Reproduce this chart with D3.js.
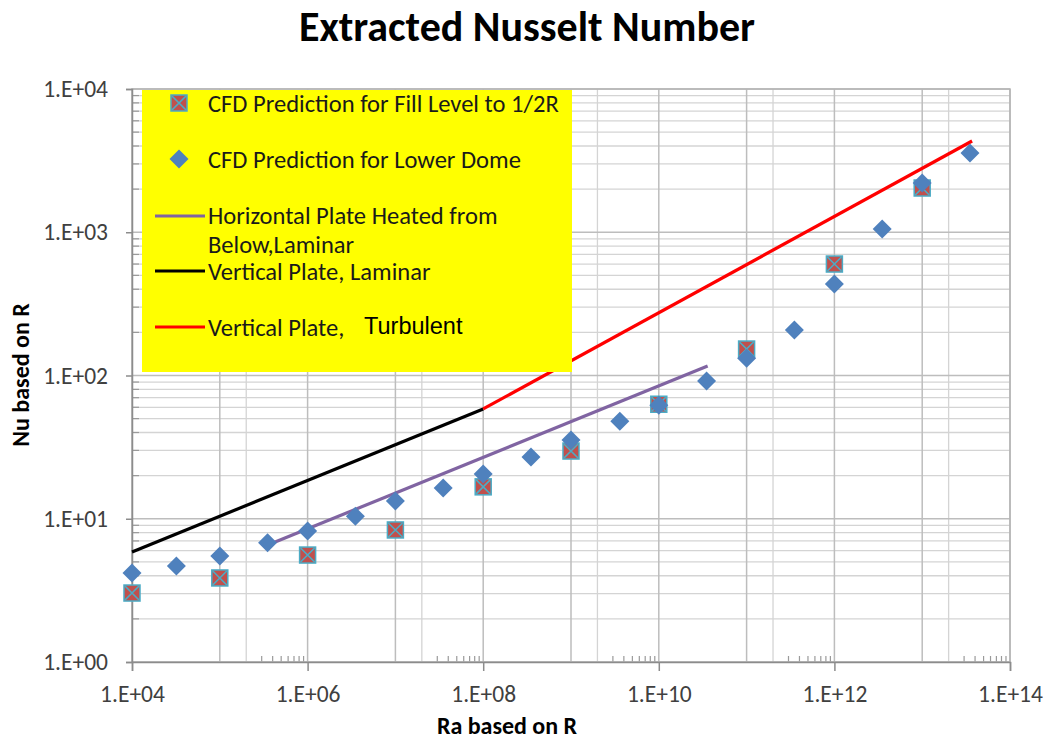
<!DOCTYPE html>
<html><head><meta charset="utf-8">
<script src="https://cdn.jsdelivr.net/npm/d3@7"></script>
<style>body{margin:0;background:#fff}</style>
</head><body><svg id="c" width="1045" height="740"></svg>
<script>
// ---- data ----
const domeRa = [1e4, 3.2e4, 1e5, 3.5e5, 1e6, 3.5e6, 1e7, 3.5e7, 1e8, 3.5e8, 1e9, 3.6e9, 1e10, 3.5e10, 1e11, 3.5e11, 1e12, 3.5e12, 1e13, 3.5e13];
const domeNu = [4.18, 4.68, 5.5, 6.8, 8.2, 10.4, 13.3, 16.4, 20.5, 27, 35.5, 48, 62, 91.6, 132, 208, 435, 1054, 2208, 3575];
const fillRa = [1e4, 1e5, 1e6, 1e7, 1e8, 1e9, 1e10, 1e11, 1e12, 1e13];
const fillNu = [3.03, 3.86, 5.58, 8.35, 16.7, 29.7, 63, 153, 600, 2036];
const horizRa = [4.0e5, 3.6e10];
const horizNu = [6.77, 116.5];
const vertLamRa = [1e4, 1e8];
const vertLamNu = [5.86, 58.4];
const vertTurbRa = [1e8, 3.7e13];
const vertTurbNu = [58.4, 4335];
const xTicks = [1e4, 1e6, 1e8, 1e10, 1e12, 1e14];
const xTickLabels = ["1.E+04", "1.E+06", "1.E+08", "1.E+10", "1.E+12", "1.E+14"];
const yTicks = [1, 10, 100, 1000, 10000];
const yTickLabels = ["1.E+00", "1.E+01", "1.E+02", "1.E+03", "1.E+04"];
const legendLabels = ["CFD Prediction for Fill Level to 1/2R", "CFD Prediction for Lower Dome",
  "Horizontal Plate Heated  from", "Below,Laminar", "Vertical Plate, Laminar", "Vertical Plate,"];
const legendExtra = "Turbulent";

const svg = d3.select("#c");
const L = 132, R = 1010, T = 89, B = 662;
const x = d3.scaleLog().domain([1e4, 1e14]).range([L, R]);
const y = d3.scaleLog().domain([1, 1e4]).range([B, T]);
const FONT = "Carlito, Lato, 'Open Sans', sans-serif";

// grid
const hMinor = [], hMajor = [];
for (let e = 0; e < 4; e++) for (let k = 1; k <= 9; k++) (k === 1 ? hMajor : hMinor).push(k * Math.pow(10, e));
hMajor.push(1e4);
const vMajor = d3.range(4, 15).map(e => Math.pow(10, e));
const vMinor = [];
const vTicksSmall = [];
for (let e = 5; e < 14; e += 2) {
  vMinor.push(2 * Math.pow(10, e));
  for (let k = 3; k <= 9; k++) vTicksSmall.push(k * Math.pow(10, e));
}
const g = svg.append("g");
g.selectAll(".hm").data(hMinor).join("line")
  .attr("x1", L).attr("x2", R).attr("y1", d => y(d)).attr("y2", d => y(d))
  .attr("stroke", "#d4d4d4").attr("stroke-width", 1.3);
g.selectAll(".vm").data(vMinor).join("line")
  .attr("y1", T).attr("y2", B).attr("x1", d => x(d)).attr("x2", d => x(d))
  .attr("stroke", "#d4d4d4").attr("stroke-width", 1.3);
g.selectAll(".hM").data(hMajor).join("line")
  .attr("x1", L).attr("x2", R).attr("y1", d => y(d)).attr("y2", d => y(d))
  .attr("stroke", "#bdbdbd").attr("stroke-width", 1.5);
g.selectAll(".vM").data(vMajor).join("line")
  .attr("y1", T).attr("y2", B).attr("x1", d => x(d)).attr("x2", d => x(d))
  .attr("stroke", "#bdbdbd").attr("stroke-width", 1.5);
g.selectAll(".vt").data(vTicksSmall).join("line")
  .attr("y1", B - 6).attr("y2", B).attr("x1", d => x(d)).attr("x2", d => x(d))
  .attr("stroke", "#9a9a9a").attr("stroke-width", 1.2);
g.selectAll(".yt").data(hMinor).join("line")
  .attr("x1", L).attr("x2", L + 7).attr("y1", d => y(d)).attr("y2", d => y(d))
  .attr("stroke", "#9a9a9a").attr("stroke-width", 1.2);
// plot border
svg.append("rect").attr("x", L).attr("y", T).attr("width", R - L).attr("height", B - T)
  .attr("fill", "none").attr("stroke", "#b5b5b5").attr("stroke-width", 1.5);

// axes
const xAxis = d3.axisBottom(x).tickValues(xTicks).tickFormat((d, i) => xTickLabels[i]).tickSize(9).tickPadding(14);
const gx = svg.append("g").attr("transform", `translate(0,${B})`).call(xAxis);
const yAxis = d3.axisLeft(y).tickValues(yTicks).tickFormat((d, i) => yTickLabels[i]).tickSize(6).tickPadding(18);
const gy = svg.append("g").attr("transform", `translate(${L},0)`).call(yAxis);
[gx, gy].forEach(a => {
  a.select(".domain").attr("stroke", "#8c8c8c").attr("stroke-width", 1.5);
  a.selectAll(".tick line").attr("stroke", "#8c8c8c").attr("stroke-width", 1.5);
  a.selectAll("text").attr("font-family", FONT).attr("font-size", 23.5).attr("fill", "#404040");
});

// lines
const line = d3.line().x(d => x(d[0])).y(d => y(d[1]));
function drawLine(ra, nu, color) {
  svg.append("path").datum(ra.map((r, i) => [r, nu[i]])).attr("d", line)
    .attr("fill", "none").attr("stroke", color).attr("stroke-width", 3.2);
}
drawLine(vertLamRa, vertLamNu, "#000000");
drawLine(vertTurbRa, vertTurbNu, "#ff0000");
drawLine(horizRa, horizNu, "#8064a2");

// markers
function squareMarker(sel) {
  sel.append("rect").attr("x", -8).attr("y", -8).attr("width", 16).attr("height", 16)
    .attr("fill", "#c0504d").attr("stroke", "#4bacc6").attr("stroke-width", 1.5);
  sel.append("path").attr("d", "M-7,-7L7,7M7,-7L-7,7").attr("stroke", "#4bacc6").attr("stroke-width", 1.6);
}
function diamondMarker(sel) {
  sel.append("path").attr("d", "M0,-9.5L9.5,0L0,9.5L-9.5,0Z").attr("fill", "#4f81bd");
}
svg.append("g").selectAll("g").data(fillRa.map((r, i) => [r, fillNu[i]])).join("g")
  .attr("transform", d => `translate(${x(d[0])},${y(d[1])})`).call(squareMarker);
svg.append("g").selectAll("g").data(domeRa.map((r, i) => [r, domeNu[i]])).join("g")
  .attr("transform", d => `translate(${x(d[0])},${y(d[1])})`).call(diamondMarker);

// legend
const lg = svg.append("g");
lg.append("rect").attr("x", 142).attr("y", 90).attr("width", 430).attr("height", 282).attr("fill", "#ffff00");
lg.append("g").attr("transform", "translate(179,103)").call(squareMarker);
lg.append("g").attr("transform", "translate(179,159)").call(diamondMarker);
[[216, "#8064a2"], [271, "#000000"], [327, "#ff0000"]].forEach(([yy, c]) =>
  lg.append("line").attr("x1", 155).attr("x2", 205).attr("y1", yy).attr("y2", yy).attr("stroke", c).attr("stroke-width", 3.2));
const baselines = [112, 168, 224, 253, 280, 336];
const tg = lg.append("g");
const texts = legendLabels.map((t, i) => tg.append("text").attr("x", 0).attr("y", baselines[i]).text(t)
  .attr("font-family", FONT).attr("font-size", 24).attr("fill", "#1a1a1a"));
const w0 = texts[0].node().getComputedTextLength();
const sx = 351 / w0;
tg.attr("transform", `translate(208,0) scale(${sx},1)`);
lg.append("text").attr("x", 364).attr("y", 334).text(legendExtra)
  .attr("font-family", "'Liberation Sans', Arial, sans-serif").attr("font-size", 23.5).attr("fill", "#000");

// titles
svg.append("text").attr("x", 527).attr("y", 40.5).attr("text-anchor", "middle")
  .attr("font-family", FONT).attr("font-weight", "bold").attr("font-size", 42).text("Extracted Nusselt Number");
svg.append("text").attr("x", 507).attr("y", 734).attr("text-anchor", "middle")
  .attr("font-family", FONT).attr("font-weight", "bold").attr("font-size", 24).text("Ra based on R");
svg.append("text").attr("transform", "translate(29,375) rotate(-90)").attr("text-anchor", "middle")
  .attr("font-family", FONT).attr("font-weight", "bold").attr("font-size", 24).text("Nu based on R");
</script></body></html>
